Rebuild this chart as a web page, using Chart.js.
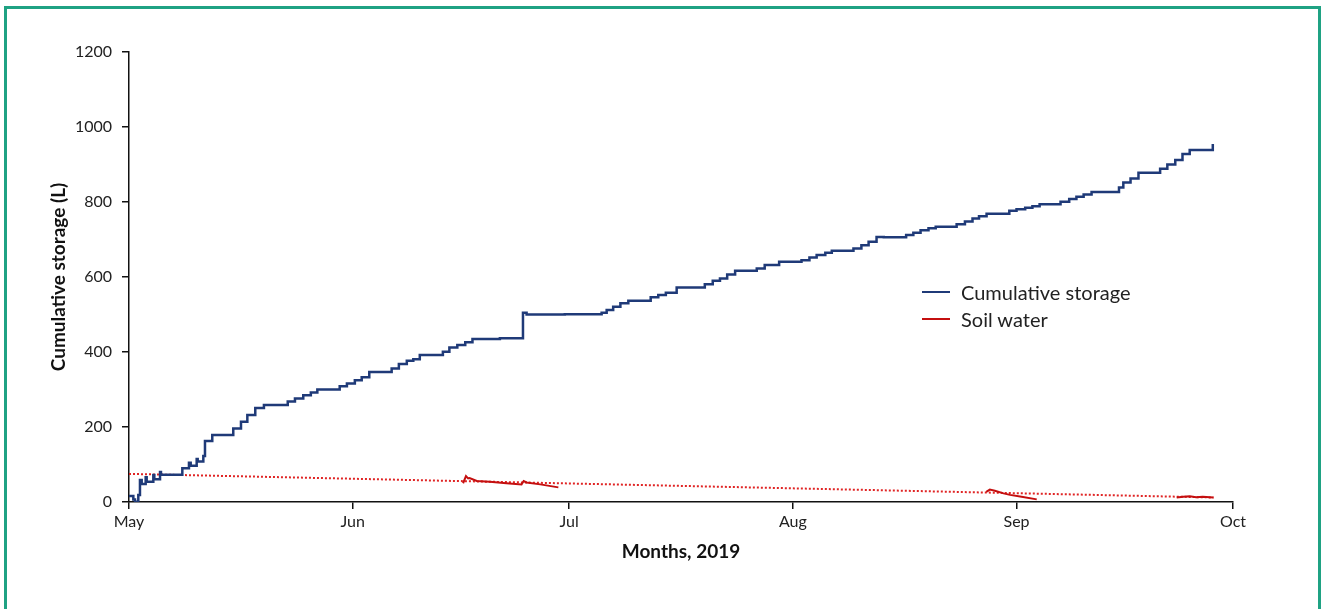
<!DOCTYPE html>
<html>
<head>
<meta charset="utf-8">
<title>Cumulative storage and soil water, 2019</title>
<script src="https://cdn.jsdelivr.net/npm/chart.js@4.4.1/dist/chart.umd.min.js"></script>
<style>
  html, body { margin: 0; padding: 0; background: #ffffff; }
  #wrap { position: relative; width: 1321px; height: 609px; overflow: hidden; background: #fff; }
  #frame { position: absolute; left: 4px; top: 6px; width: 1317px; height: 700px; border: 3px solid #1fa283; box-sizing: border-box; pointer-events: none; }
  canvas { position: absolute; left: 0; top: 0; }
  #legend { position: absolute; left: 922px; top: 278px; font-family: Lato, "Open Sans", sans-serif; font-size: 20px; color: #222; }
  #legend .row { display: flex; align-items: center; height: 27px; }
  #legend .swatch { width: 28px; height: 2px; margin-right: 11px; }
</style>
</head>
<body>
<div id="wrap">
  <canvas id="chart" width="1321" height="609"></canvas>
  <div id="legend">
    <div class="row"><span class="swatch" style="background:#1f3a78"></span><span>Cumulative storage</span></div>
    <div class="row"><span class="swatch" style="background:#c40f0f"></span><span>Soil water</span></div>
  </div>
  <div id="frame"></div>
</div>
<script>
// Month axis: day offsets from 1 May 2019 and their labels
const monthStartDays = [0, 31, 61, 92, 123, 153];
const monthLabels = ['May', 'Jun', 'Jul', 'Aug', 'Sep', 'Oct'];

// Cumulative storage (L): day of each step and the level reached
const storageDays = [
  0, 0.6, 0.83, 1.29, 1.52, 1.76, 2.31, 2.45, 3.37, 3.51, 4.30, 4.43,
  7.39, 8.31, 8.55, 9.38, 9.52, 10.3, 10.53, 11.54, 14.45, 15.52, 16.4, 17.5,
  18.7, 22.0, 23.0, 24.15, 25.2, 26.1, 29.2, 30.2, 31.3, 32.25, 33.3, 36.4,
  37.4, 38.5, 39.4, 40.3, 43.5, 44.4, 45.5, 46.6, 47.6, 51.4, 54.6, 55.1,
  60.4, 65.5, 66.2, 67.1, 68.1, 69.2, 72.3, 73.35, 74.4, 75.9, 79.8, 80.9,
  81.9, 82.9, 84.0, 87.0, 88.1, 90.1, 93.2, 94.3, 95.3, 96.5, 97.4, 100.4,
  101.5, 102.5, 103.6, 104.6, 107.7, 108.7, 109.7, 110.8, 111.8, 114.7, 115.85, 116.9,
  117.8, 118.85, 122.0, 123.0, 124.2, 125.2, 126.2, 129.1, 130.3, 131.3, 132.3, 133.4,
  137.2, 137.8, 138.8, 139.9, 142.9, 143.9, 145.0, 146.0, 147.0, 150.0, 150.2
];
const storageLitres = [
  16, 7, 1, 19, 59, 48, 66, 54, 72, 61, 80, 73,
  90, 105, 97, 115, 108, 123, 163, 179, 196, 214, 232, 251,
  259, 268, 276, 285, 292, 300, 309, 316, 325, 333, 347, 356,
  368, 377, 381, 392, 401, 412, 419, 426, 435, 437, 505, 500,
  501, 505, 512, 521, 530, 537, 546, 552, 558, 572, 581, 590,
  596, 607, 617, 623, 632, 641, 645, 652, 659, 665, 670, 676,
  685, 694, 707, 706, 712, 718, 725, 730, 734, 741, 748, 756,
  762, 769, 777, 781, 785, 789, 794, 801, 808, 814, 820, 827,
  839, 852, 863, 878, 889, 900, 912, 928, 939, 939, 955
];

// Soil water (L): three logged periods, separated by gaps (null)
const soilDays = [
  46.3, 46.7, 47.0, 47.2, 48.2, 50.0, 52.3, 54.4, 54.7, 55.1, 57.0, 59.5,
  60.0,
  118.8, 119.3, 120.0, 121.2, 122.1, 123.7, 125.8,
  130.0,
  145.2, 146.1, 147.0, 147.9, 148.8, 150.3
];
const soilLitres = [
  50, 69, 63, 64, 56, 54, 50, 47, 56, 52, 47, 39,
  null,
  27, 33, 30, 23, 19, 14, 7,
  null,
  12, 14, 15, 13, 14, 12
];

// Linear trend of soil water over the season
const trendDays = [0, 150.3];
const trendLitres = [75, 12];

const yTickStep = 200;
const yMax = 1200;

const pairs = (xs, ys) => xs.map((x, i) => ({ x: x, y: ys[i] }));

const baseFont = { family: 'Lato, "Open Sans", sans-serif', size: 16 };
const titleFont = { family: 'Lato, "Open Sans", sans-serif', size: 19, weight: 'bold' };

new Chart(document.getElementById('chart'), {
  type: 'line',
  data: {
    datasets: [
      {
        label: 'Soil water trend',
        data: pairs(trendDays, trendLitres),
        borderColor: '#e02424',
        borderWidth: 2,
        borderDash: [2, 2],
        pointRadius: 0,
        fill: false,
        order: 3
      },
      {
        label: 'Soil water',
        data: pairs(soilDays, soilLitres),
        borderColor: '#c40f0f',
        borderWidth: 2,
        pointRadius: 0,
        spanGaps: false,
        fill: false,
        tension: 0,
        order: 2
      },
      {
        label: 'Cumulative storage',
        data: pairs(storageDays, storageLitres),
        borderColor: '#1f3a78',
        borderWidth: 2.5,
        pointRadius: 0,
        stepped: 'before',
        fill: false,
        order: 1
      }
    ]
  },
  options: {
    responsive: false,
    animation: false,
    devicePixelRatio: 1,
    layout: { padding: { left: 47, top: 52, right: 88, bottom: 46 } },
    plugins: {
      legend: { display: false },
      tooltip: { enabled: false }
    },
    scales: {
      x: {
        type: 'linear',
        min: monthStartDays[0],
        max: monthStartDays[monthStartDays.length - 1],
        afterBuildTicks: (scale) => {
          scale.ticks = monthStartDays.map(v => ({ value: v }));
        },
        afterFit: (scale) => { scale.height = 61; },
        ticks: {
          font: baseFont,
          color: '#222',
          padding: 3,
          maxRotation: 0,
          autoSkip: false,
          callback: (value) => {
            const i = monthStartDays.indexOf(value);
            return i >= 0 ? monthLabels[i] : '';
          }
        },
        grid: { drawOnChartArea: false, drawTicks: true, tickLength: 7, color: '#111', lineWidth: 1.5 },
        border: { display: true, color: '#111', width: 1.5 },
        title: { display: true, text: 'Months, 2019', font: titleFont, color: '#111', padding: 0 }
      },
      y: {
        type: 'linear',
        min: 0,
        max: yMax,
        afterFit: (scale) => { scale.width = 82; },
        ticks: { stepSize: yTickStep, font: baseFont, color: '#222', padding: 10, callback: (v) => String(v) },
        grid: { drawOnChartArea: false, drawTicks: true, tickLength: 7, color: '#111', lineWidth: 1.5 },
        border: { display: true, color: '#111', width: 1.5 },
        title: { display: true, text: 'Cumulative storage (L)', font: titleFont, color: '#111', padding: 0 }
      }
    }
  }
});
</script>
</body>
</html>
